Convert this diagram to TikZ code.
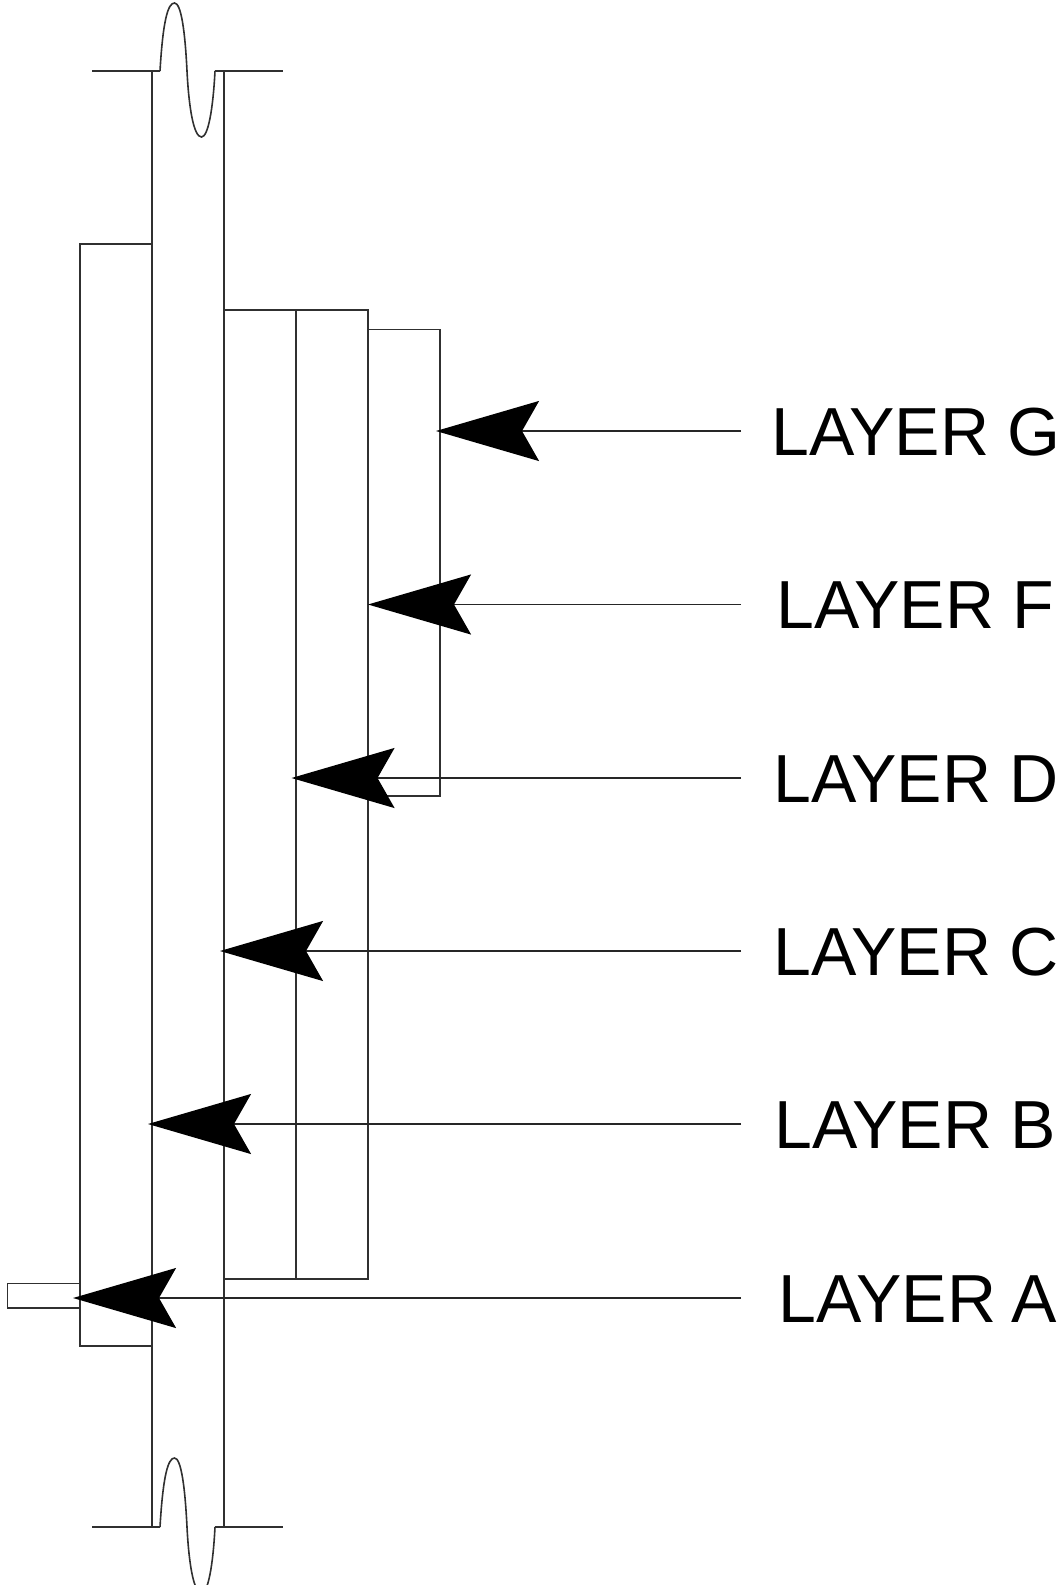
\documentclass[tikz,border=0pt]{standalone}
\usepackage{fontspec}
\setmainfont{Liberation Sans}
\usetikzlibrary{arrows.meta}
\definecolor{ink}{HTML}{303030}
\tikzset{
  part/.style={draw=ink,line width=1.7pt},
  wave/.style={draw=ink,line width=1.6pt},
  layerlabel/.style={anchor=west,inner sep=0pt,text height=48pt,text depth=0pt,font=\fontsize{68}{68}\selectfont,text=black},
  layerarrow/.style={draw=black!85,line width=1.8pt,-{Stealth[length=103pt,width=60pt,inset=17pt,fill=black,color=black]}}
}
\begin{document}
\begin{tikzpicture}[x=1pt,y=-1pt]
\useasboundingbox (0,0) rectangle (1062,1585);
% pipe
\draw[part] (152,71) -- (152,1527);
\draw[part] (224,71) -- (224,1527);
\draw[part] (92,71) -- (160,71);
\draw[part] (215,71) -- (283,71);
\draw[part] (92,1527) -- (160,1527);
\draw[part] (215,1527) -- (283,1527);
\draw[wave] (160,71) .. controls (163,20) and (168,3) .. (174.5,3) .. controls (181,3) and (185,30) .. (187,71) .. controls (189,110) and (194,137) .. (201.5,137) .. controls (208,137) and (213,110) .. (215,71);
\draw[wave] (160,1527) .. controls (163,1476) and (168,1458) .. (174.5,1458) .. controls (181,1458) and (185,1486) .. (187,1527) .. controls (189,1566) and (194,1593) .. (201.5,1593) .. controls (208,1593) and (213,1566) .. (215,1527);
% left layer and stub
\draw[part] (152,244) -- (80,244) -- (80,1346) -- (152,1346);
\draw[part] (80,1283.5) -- (7.5,1283.5) -- (7.5,1308) -- (80,1308);
% right layers
\draw[part] (224,310) -- (368,310) -- (368,1279) -- (224,1279);
\draw[part] (296,310) -- (296,1279);
\draw[part] (368,329.5) -- (440,329.5) -- (440,796) -- (368,796);
% labels
\node[layerlabel] (lg) at (771,431) {LAYER G};
\node[layerlabel] (lf) at (776,604.5) {LAYER F};
\node[layerlabel] (ld) at (773,778) {LAYER D};
\node[layerlabel] (lc) at (773,951) {LAYER C};
\node[layerlabel] (lb) at (774,1124) {LAYER B};
\node[layerlabel] (la) at (778,1298) {LAYER\kern-3pt\ A};
% arrow targets
\coordinate (tg) at (436,431);
\coordinate (tf) at (368,604.5);
\coordinate (td) at (291.5,778);
\coordinate (tc) at (220,951);
\coordinate (tb) at (148,1124);
\coordinate (ta) at (73,1298);
\draw[layerarrow] ([xshift=-30pt]lg.west) -- (tg);
\draw[layerarrow] ([xshift=-35pt]lf.west) -- (tf);
\draw[layerarrow] ([xshift=-32pt]ld.west) -- (td);
\draw[layerarrow] ([xshift=-32pt]lc.west) -- (tc);
\draw[layerarrow] ([xshift=-33pt]lb.west) -- (tb);
\draw[layerarrow] ([xshift=-37pt]la.west) -- (ta);
\end{tikzpicture}
\end{document}
